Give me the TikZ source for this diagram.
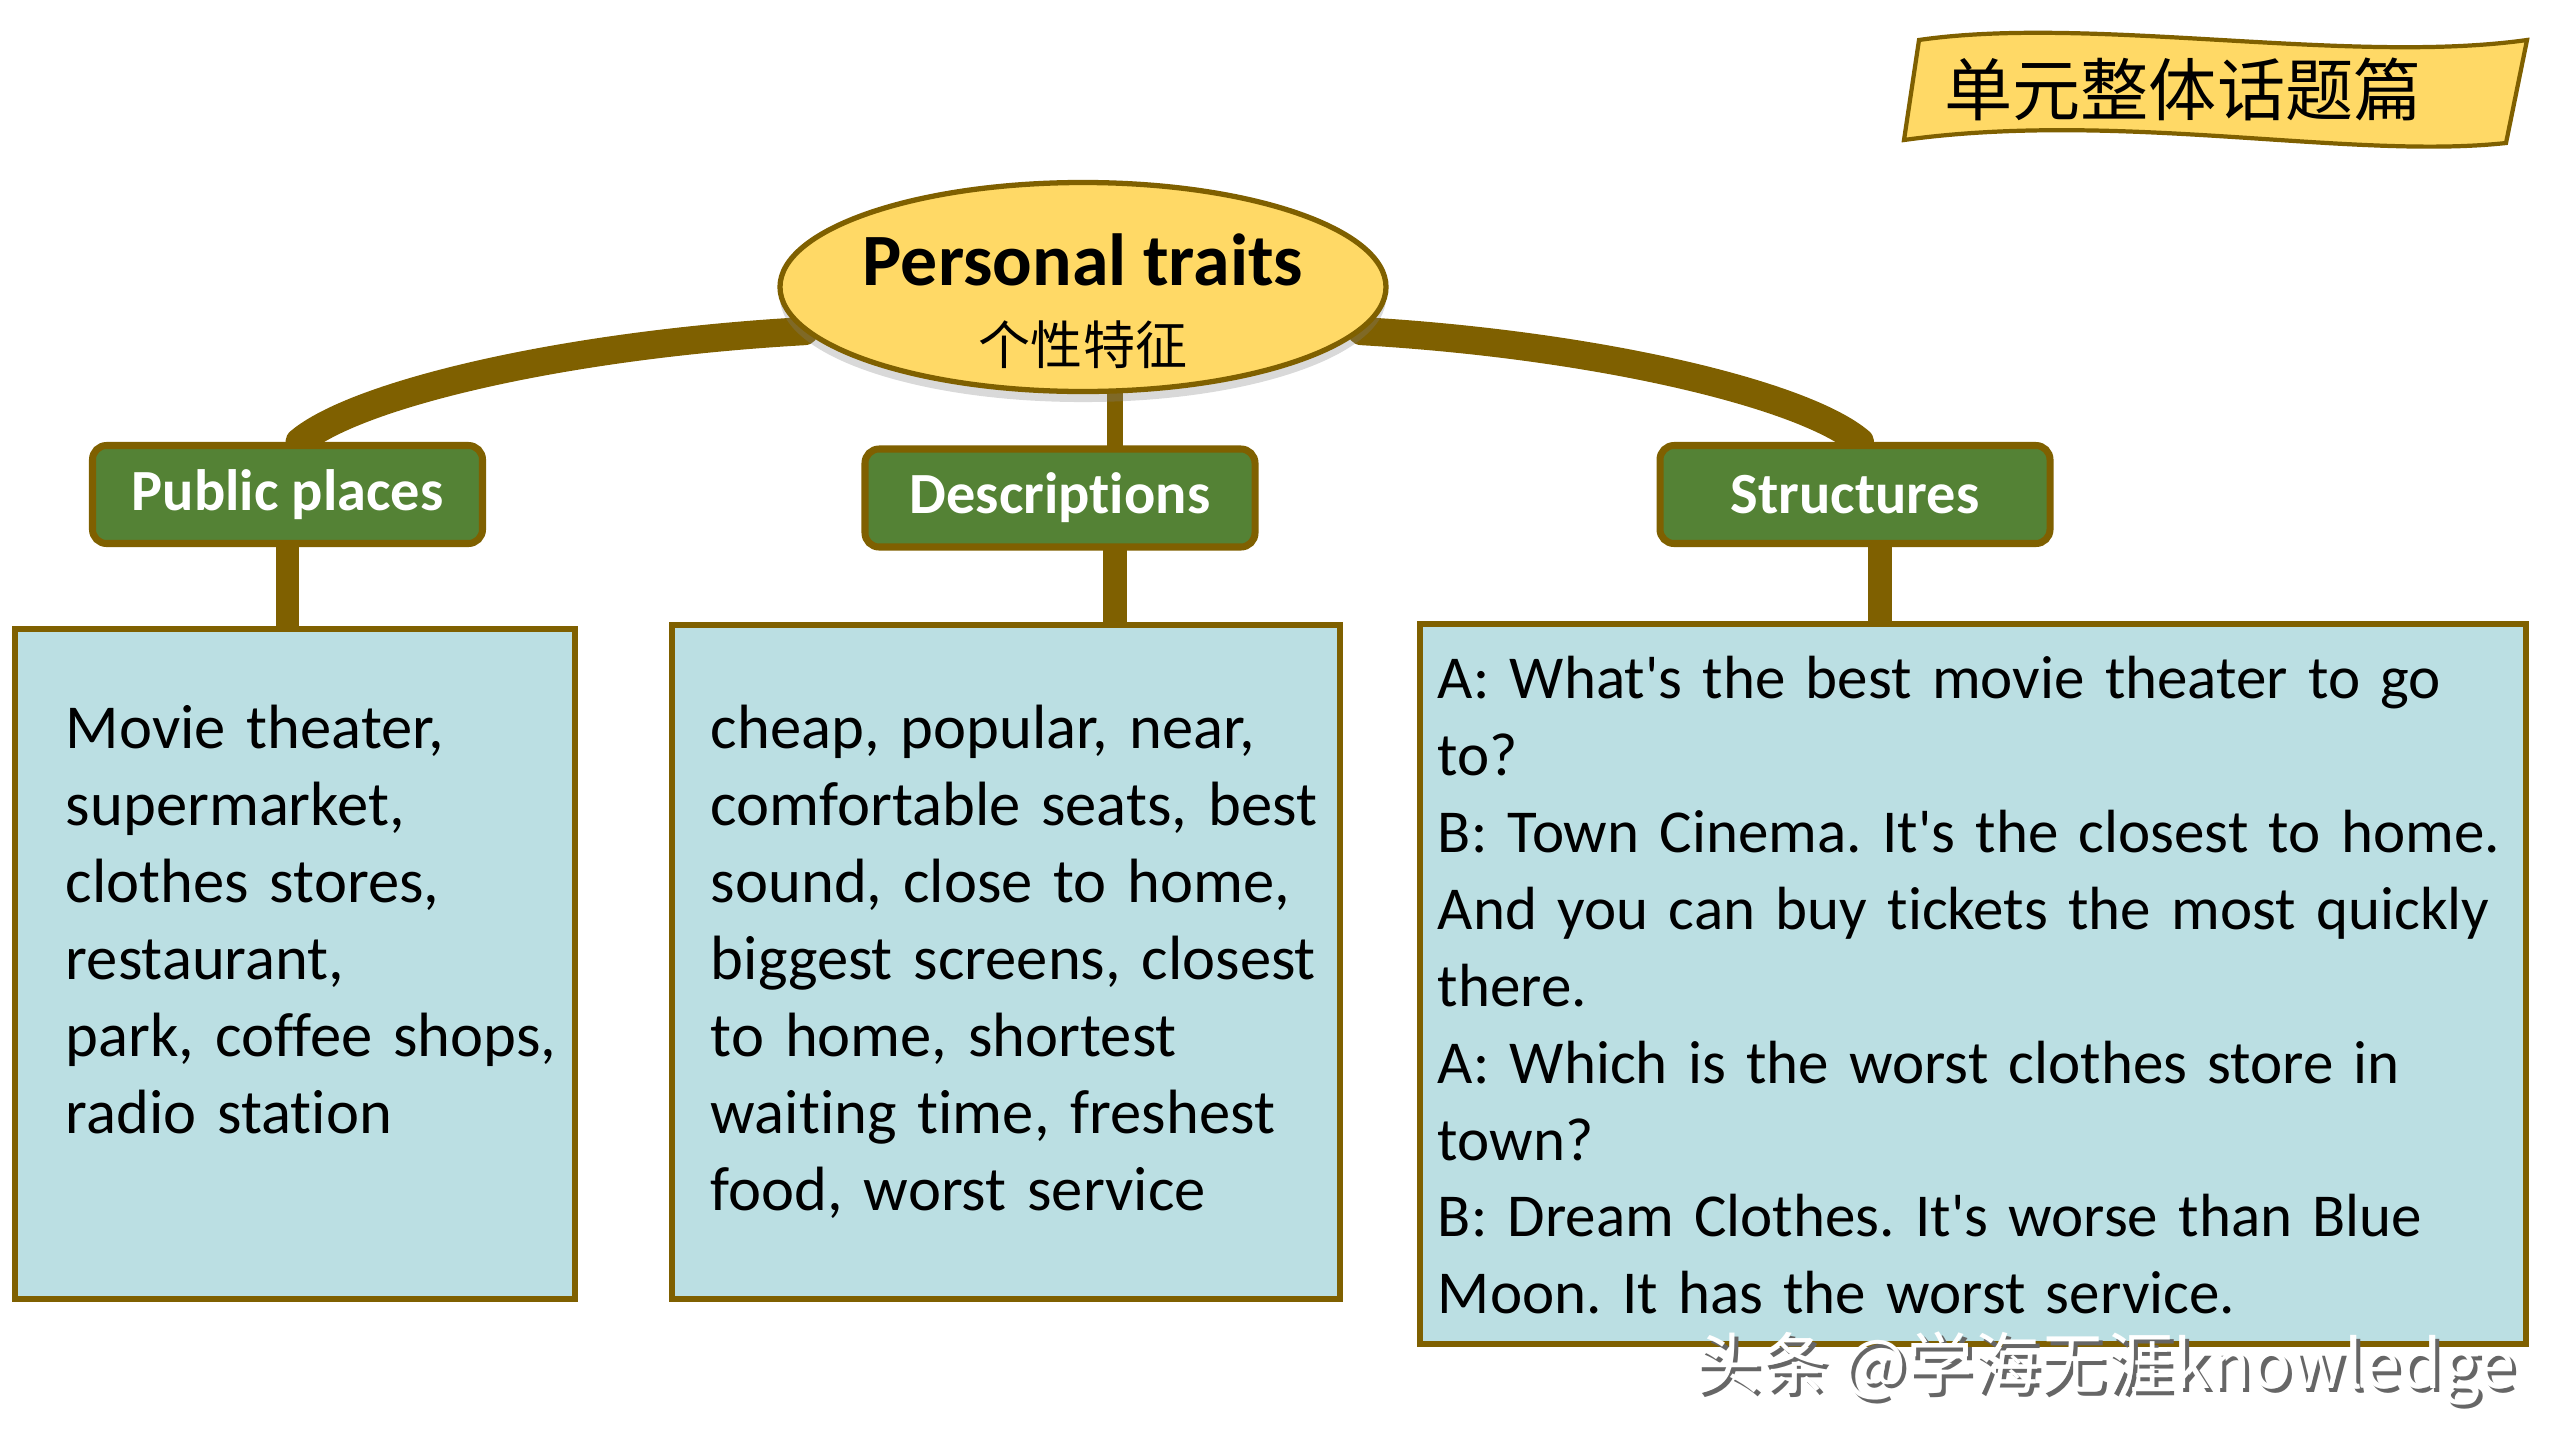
\documentclass[tikz,border=0pt]{standalone}
\usepackage{fontspec}
\setmainfont{Carlito}[Ligatures=NoCommon]
\newfontfamily\cjk{Noto Sans CJK SC}
\usepackage{tikz}
\usetikzlibrary{positioning,shapes,shadows}
\definecolor{braun}{RGB}{127,96,0}
\definecolor{gelb}{RGB}{255,217,102}
\definecolor{gruen}{RGB}{84,130,53}
\definecolor{hellblau}{RGB}{187,223,227}
\pgfdeclarelayer{hinten}
\pgfsetlayers{hinten,main}
\frenchspacing
\tikzset{
  kopf/.style={draw=braun, line width=2pt, fill=gruen, rounded corners=4pt,
    minimum width=3.9cm, minimum height=0.98cm, inner sep=0pt, text=white,
    font=\fontsize{16.6}{20}\selectfont\bfseries},
  kasten/.style={draw=braun, line width=1.6pt, fill=hellblau, inner sep=0pt},
  txt/.style={anchor=base west, inner sep=0pt, align=left, text width=12.5cm,
    font=\fontsize{17.8}{21.9}\selectfont},
  ast/.style={draw=braun, line width=8pt, line cap=round},
  stiel/.style={draw=braun, line width=6.8pt},
}

\begin{document}
\begin{tikzpicture}
\useasboundingbox (0,0) rectangle (25.6,-14.4);
% banner
\draw[draw=braun, line width=1.2pt, fill=gelb] (19.04,-1.40) -- (19.19,-0.40)
  .. controls (20.9,-0.15) and (23.5,-0.65) .. (25.27,-0.40) -- (25.06,-1.43)
  .. controls (23.5,-1.6) and (21.2,-1.1) .. (19.04,-1.40) -- cycle;
\node[font=\cjk\fontsize{19.4}{22}\selectfont] (ban) at (21.83,-0.89) {单元整体话题篇};
% mitte
\node[ellipse, draw=braun, line width=1.5pt, fill=gelb, minimum width=6.06cm, minimum height=2.09cm,
  drop shadow={shadow xshift=0pt, shadow yshift=-3pt, opacity=0.3}] (pt) at (10.83,-2.87) {};
\node[anchor=base, inner sep=0pt, font=\fontsize{21}{25}\selectfont\bfseries] (ptt) at ([yshift=0.02cm]pt.center) {Personal traits};
\node[inner sep=0pt, font=\cjk\fontsize{14.8}{18}\selectfont] (ptc) at ([yshift=-0.58cm]pt.center) {个性特征};
% koepfe
\node[kopf] (pp) at (2.875,-4.945) {Public places};
\node[kopf] (ds) at (10.6,-4.98) {Descriptions};
\node[kopf] (st) at (18.55,-4.945) {Structures};
% kaesten
\node[kasten, minimum width=5.6cm, minimum height=6.7cm] (b1) at (2.95,-9.64) {};
\node[kasten, minimum width=6.68cm, minimum height=6.74cm] (b2) at (10.06,-9.62) {};
\node[kasten, minimum width=11.06cm, minimum height=7.2cm] (b3) at (19.73,-9.84) {};
\node[txt] (t1) at ([xshift=0.53cm,yshift=-1.22cm]b1.north west) {Movie theater,\\ supermarket,\\ clothes stores,\\ restaurant,\\ park, coffee shops,\\ radio station};
\node[txt] (t2) at ([xshift=0.41cm,yshift=-1.26cm]b2.north west) {cheap, popular, near,\\ comfortable seats, best\\ sound, close to home,\\ biggest screens, closest\\ to home, shortest\\ waiting time, freshest\\ food, worst service};
\node[txt, font=\fontsize{17.35}{21.9}\selectfont] (t3) at ([xshift=0.2cm,yshift=-0.77cm]b3.north west) {A: What\textquotesingle s the best movie theater to go\\ to?\\ B: Town Cinema. It\textquotesingle s the closest to home.\\ And you can buy tickets the most quickly\\ there.\\ A: Which is the worst clothes store in\\ town?\\ B: Dream Clothes. It\textquotesingle s worse than Blue\\ Moon. It has the worst service.};
% linien
\coordinate (dl) at (11.15,0);
\coordinate (sl) at (18.8,0);
\begin{pgfonlayer}{hinten}
\draw[ast] ([xshift=0.12cm]pp.north) .. controls (3.55,-3.95) and (5.6,-3.45) .. (pt.189);
\draw[ast] ([xshift=0.05cm]st.north) .. controls (18.05,-3.95) and (16.0,-3.45) .. (pt.351);
\draw[draw=braun, line width=4.3pt] (pt.center -| dl) -- (ds.center -| dl);
\draw[stiel] (pp.center) -- (pp.center |- b1.center);
\draw[stiel] (ds.center -| dl) -- (b2.center -| dl);
\draw[stiel] (st.center -| sl) -- (b3.center -| sl);
\end{pgfonlayer}
% wasserzeichen
\node[anchor=west, inner sep=0pt, text=black!60, font=\cjk\fontsize{19}{22}\selectfont] (wms) at (16.98,-13.72) {头条 @学海无涯knowledge};
\node[anchor=west, inner sep=0pt, text=white, font=\cjk\fontsize{19}{22}\selectfont] (wm) at ([xshift=-0.04cm,yshift=0.04cm]wms.west) {头条 @学海无涯knowledge};
\end{tikzpicture}
\end{document}
